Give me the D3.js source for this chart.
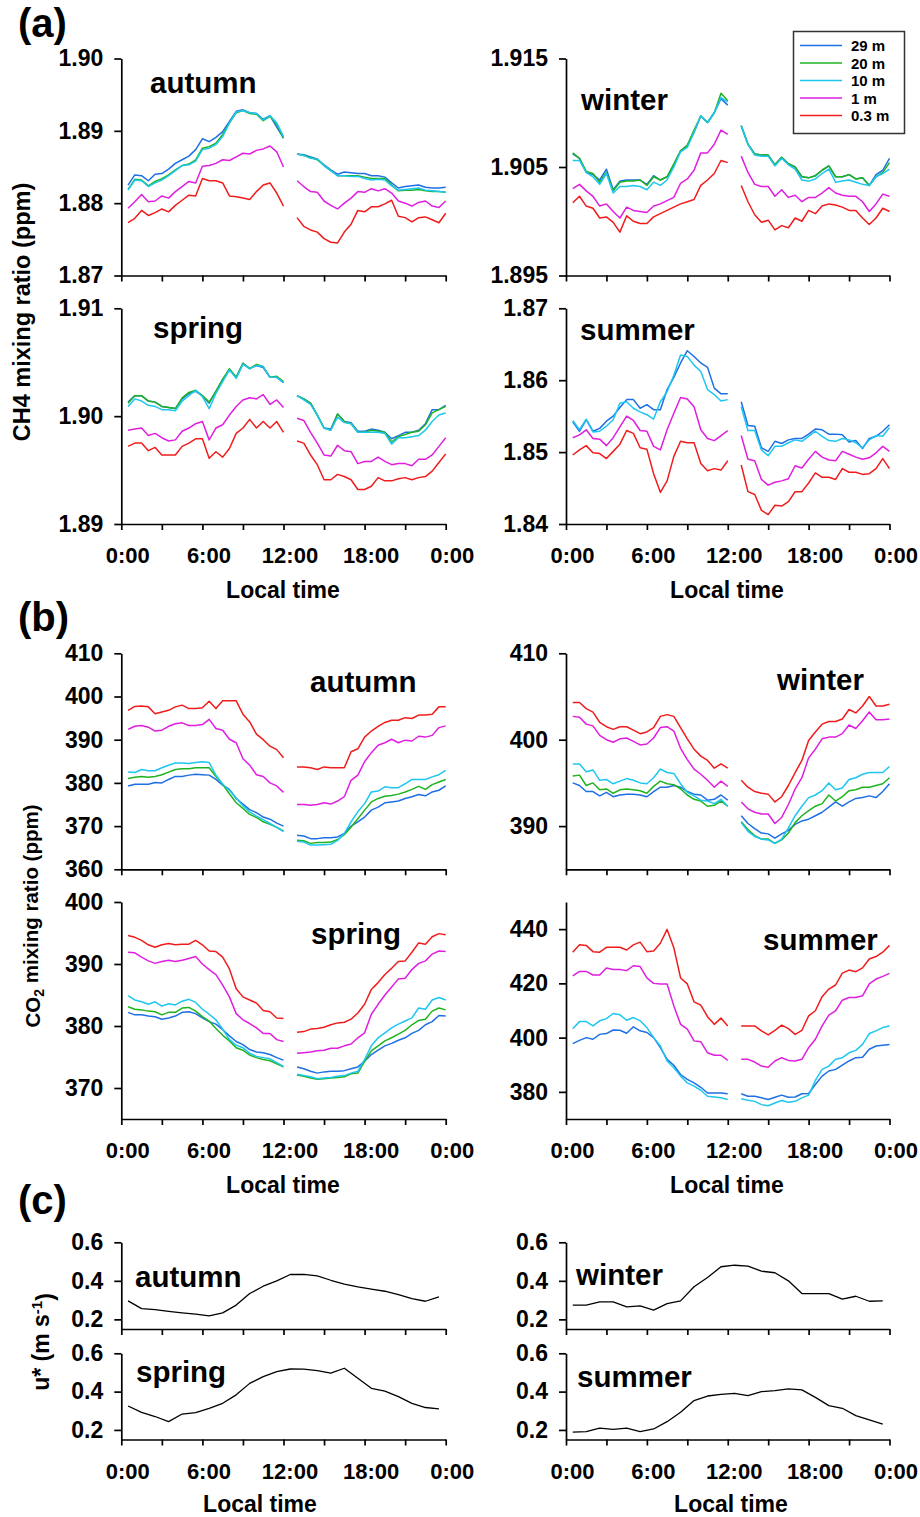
<!DOCTYPE html>
<html><head><meta charset="utf-8">
<script src="https://cdn.jsdelivr.net/npm/d3@7"></script>
<style>
body{margin:0;background:#fff;}
svg text{font-family:"Liberation Sans",Arial,Helvetica,sans-serif;font-weight:bold;fill:#000;}
</style></head><body>
<svg id="chart" width="920" height="1517"></svg>
<script>
// ---------- categories / ticks ----------
const halfHours = [0.5,1,1.5,2,2.5,3,3.5,4,4.5,5,5.5,6,6.5,7,7.5,8,8.5,9,9.5,10,10.5,11,11.5,12,12.5,13,13.5,14,14.5,15,15.5,16,16.5,17,17.5,18,18.5,19,19.5,20,20.5,21,21.5,22,22.5,23,23.5,24];
const hours = [0.5,1.5,2.5,3.5,4.5,5.5,6.5,7.5,8.5,9.5,10.5,11.5,12.5,13.5,14.5,15.5,16.5,17.5,18.5,19.5,20.5,21.5,22.5,23.5];
const heights = ["29 m","20 m","10 m","1 m","0.3 m"];
const seasons = ["autumn","winter","spring","summer"];
const xTickValues = [0,3,6,9,12,15,18,21,24];
const xTickLabels = ["0:00","","6:00","","12:00","","18:00","","0:00"];
const ch4TicksAutumn = [1.87,1.88,1.89,1.90];
const ch4TicksWinter = [1.895,1.905,1.915];
const ch4TicksSpring = [1.89,1.90,1.91];
const ch4TicksSummer = [1.84,1.85,1.86,1.87];
const co2TicksAutumn = [360,370,380,390,400,410];
const co2TicksWinter = [390,400,410];
const co2TicksSpring = [370,380,390,400];
const co2TicksSummer = [380,400,420,440];
const uTicks = [0.2,0.4,0.6];

// ---------- CH4 (ppm) ----------
const ch4Autumn29 = [1.8825,1.8839,1.8838,1.8831,1.8840,1.8841,1.8847,1.8855,1.8860,1.8865,1.8874,1.8889,1.8885,1.8891,1.8899,1.8913,1.8927,1.8929,1.8925,1.8924,1.8916,1.8921,1.8905,1.8890,null,1.8868,1.8867,1.8864,1.8861,1.8853,1.8846,1.8840,1.8843,1.8842,1.8841,1.8841,1.8838,1.8838,1.8836,1.8828,1.8821,1.8823,1.8824,1.8825,1.8822,1.8821,1.8821,1.8822];
const ch4Autumn20 = [1.8819,1.8833,1.8832,1.8824,1.8830,1.8834,1.8839,1.8846,1.8852,1.8854,1.8860,1.8876,1.8878,1.8883,1.8895,1.8911,1.8925,1.8928,1.8924,1.8923,1.8914,1.8920,1.8909,1.8890,null,1.8868,1.8866,1.8863,1.8860,1.8852,1.8845,1.8838,1.8838,1.8838,1.8838,1.8836,1.8834,1.8834,1.8834,1.8825,1.8817,1.8818,1.8818,1.8819,1.8817,1.8816,1.8816,1.8815];
const ch4Autumn10 = [1.8818,1.8832,1.8831,1.8823,1.8828,1.8832,1.8838,1.8845,1.8852,1.8853,1.8858,1.8874,1.8876,1.8881,1.8892,1.8911,1.8926,1.8928,1.8925,1.8924,1.8915,1.8921,1.8911,1.8892,null,1.8868,1.8866,1.8862,1.8861,1.8852,1.8845,1.8838,1.8838,1.8837,1.8837,1.8834,1.8832,1.8833,1.8832,1.8824,1.8818,1.8819,1.8820,1.8821,1.8818,1.8817,1.8816,1.8815];
const ch4Autumn1 = [1.8793,1.8802,1.8812,1.8802,1.8803,1.8810,1.8807,1.8816,1.8823,1.8830,1.8828,1.8851,1.8852,1.8855,1.8860,1.8859,1.8864,1.8869,1.8868,1.8873,1.8875,1.8879,1.8871,1.8850,null,1.8831,1.8823,1.8816,1.8815,1.8803,1.8797,1.8792,1.8800,1.8807,1.8816,1.8815,1.8820,1.8817,1.8820,1.8814,1.8803,1.8800,1.8796,1.8801,1.8803,1.8796,1.8794,1.8803];
const ch4Autumn03 = [1.8773,1.8779,1.8790,1.8783,1.8787,1.8792,1.8788,1.8797,1.8804,1.8811,1.8810,1.8834,1.8831,1.8831,1.8828,1.8810,1.8809,1.8807,1.8805,1.8816,1.8825,1.8828,1.8814,1.8796,null,1.8780,1.8768,1.8763,1.8760,1.8751,1.8746,1.8745,1.8760,1.8771,1.8790,1.8788,1.8795,1.8795,1.8799,1.8804,1.8782,1.8780,1.8774,1.8780,1.8781,1.8777,1.8773,1.8786];

const ch4Winter29 = [1.9062,1.9058,1.9045,1.9043,1.9038,1.9048,1.9029,1.9037,1.9038,1.9038,1.9038,1.9034,1.9042,1.9038,1.9041,1.9052,1.9065,1.9070,1.9082,1.9097,1.9091,1.9100,1.9113,1.9107,null,1.9088,1.9071,1.9062,1.9061,1.9061,1.9052,1.9059,1.9053,1.9050,1.9041,1.9040,1.9042,1.9047,1.9051,1.9041,1.9041,1.9043,1.9039,1.9040,1.9033,1.9043,1.9047,1.9058];
const ch4Winter20 = [1.9063,1.9058,1.9046,1.9044,1.9036,1.9045,1.9028,1.9036,1.9037,1.9037,1.9038,1.9033,1.9041,1.9038,1.9041,1.9053,1.9065,1.9070,1.9084,1.9097,1.9091,1.9100,1.9118,1.9111,null,1.9088,1.9071,1.9062,1.9061,1.9061,1.9052,1.9059,1.9053,1.9050,1.9041,1.9040,1.9042,1.9047,1.9051,1.9041,1.9041,1.9043,1.9039,1.9040,1.9033,1.9041,1.9045,1.9054];
const ch4Winter10 = [1.9056,1.9056,1.9045,1.9041,1.9034,1.9044,1.9026,1.9032,1.9032,1.9033,1.9032,1.9029,1.9036,1.9033,1.9038,1.9050,1.9064,1.9068,1.9082,1.9097,1.9091,1.9100,1.9114,1.9110,null,1.9088,1.9071,1.9061,1.9060,1.9060,1.9051,1.9058,1.9052,1.9048,1.9038,1.9037,1.9039,1.9044,1.9048,1.9036,1.9037,1.9038,1.9036,1.9034,1.9033,1.9041,1.9044,1.9048];
const ch4Winter1 = [1.9030,1.9034,1.9028,1.9023,1.9014,1.9016,1.9009,1.9003,1.9013,1.9010,1.9009,1.9008,1.9014,1.9016,1.9019,1.9022,1.9035,1.9039,1.9047,1.9063,1.9063,1.9071,1.9084,1.9080,null,1.9060,1.9045,1.9034,1.9032,1.9032,1.9023,1.9029,1.9022,1.9024,1.9018,1.9022,1.9022,1.9026,1.9031,1.9026,1.9024,1.9023,1.9023,1.9018,1.9009,1.9016,1.9025,1.9023];
const ch4Winter03 = [1.9017,1.9023,1.9014,1.9012,1.9003,1.9004,1.8999,1.8990,1.9005,1.9000,1.8998,1.8998,1.9004,1.9007,1.9010,1.9013,1.9016,1.9018,1.9020,1.9033,1.9038,1.9044,1.9056,1.9054,null,1.9033,1.9018,1.9006,1.8999,1.9001,1.8992,1.8996,1.8994,1.9003,1.9000,1.9010,1.9007,1.9014,1.9016,1.9015,1.9013,1.9010,1.9010,1.9003,1.8997,1.9003,1.9012,1.9009];

const ch4Spring29 = [1.9013,1.9019,1.9019,1.9014,1.9013,1.9009,1.9008,1.9007,1.9016,1.9021,1.9023,1.9019,1.9012,1.9023,1.9034,1.9043,1.9036,1.9049,1.9044,1.9047,1.9045,1.9036,1.9036,1.9031,null,1.9019,1.9016,1.9012,1.9001,1.8989,1.8988,1.9002,1.8995,1.8994,1.8986,1.8986,1.8988,1.8987,1.8985,1.8979,1.8982,1.8985,1.8985,1.8987,1.8993,1.9006,1.9006,1.9010];
const ch4Spring20 = [1.9012,1.9019,1.9019,1.9014,1.9013,1.9009,1.9008,1.9007,1.9017,1.9022,1.9024,1.9019,1.9013,1.9023,1.9034,1.9044,1.9036,1.9049,1.9044,1.9048,1.9046,1.9036,1.9037,1.9032,null,1.9019,1.9016,1.9012,1.9001,1.8989,1.8987,1.9002,1.8995,1.8993,1.8985,1.8985,1.8987,1.8986,1.8985,1.8976,1.8981,1.8983,1.8985,1.8986,1.8992,1.9003,1.9006,1.9009];
const ch4Spring10 = [1.9009,1.9016,1.9014,1.9010,1.9009,1.9006,1.9006,1.9005,1.9014,1.9019,1.9024,1.9018,1.9007,1.9021,1.9032,1.9043,1.9035,1.9048,1.9044,1.9047,1.9046,1.9036,1.9036,1.9031,null,1.9019,1.9015,1.9011,1.9001,1.8989,1.8987,1.8999,1.8994,1.8993,1.8985,1.8985,1.8985,1.8985,1.8984,1.8974,1.8980,1.8980,1.8981,1.8982,1.8987,1.8995,1.9001,1.9003];
const ch4Spring1 = [1.8987,1.8988,1.8989,1.8982,1.8984,1.8980,1.8977,1.8978,1.8986,1.8989,1.8993,1.8995,1.8978,1.8989,1.8992,1.9001,1.9009,1.9015,1.9017,1.9016,1.9020,1.9011,1.9015,1.9008,null,1.8998,1.8996,1.8985,1.8975,1.8964,1.8963,1.8973,1.8968,1.8967,1.8956,1.8958,1.8958,1.8962,1.8958,1.8955,1.8956,1.8956,1.8954,1.8960,1.8960,1.8964,1.8972,1.8980];
const ch4Spring03 = [1.8972,1.8975,1.8975,1.8968,1.8971,1.8964,1.8964,1.8964,1.8972,1.8975,1.8979,1.8979,1.8961,1.8967,1.8962,1.8970,1.8984,1.8989,1.8997,1.8989,1.8995,1.8989,1.8995,1.8985,null,1.8977,1.8975,1.8964,1.8955,1.8941,1.8941,1.8946,1.8944,1.8941,1.8932,1.8932,1.8935,1.8943,1.8940,1.8940,1.8942,1.8943,1.8941,1.8943,1.8944,1.8949,1.8957,1.8965];

const ch4Summer29 = [1.8542,1.8529,1.8545,1.8529,1.8533,1.8543,1.8550,1.8562,1.8573,1.8573,1.8561,1.8566,1.8559,1.8559,1.8587,1.8604,1.8624,1.8641,1.8633,1.8624,1.8618,1.8589,1.8581,1.8581,null,1.8570,1.8537,1.8536,1.8506,1.8501,1.8515,1.8512,1.8517,1.8519,1.8519,1.8525,1.8532,1.8531,1.8525,1.8525,1.8524,1.8514,1.8516,1.8505,1.8519,1.8522,1.8529,1.8538];
const ch4Summer10 = [1.8544,1.8531,1.8546,1.8528,1.8529,1.8536,1.8545,1.8568,1.8570,1.8561,1.8556,1.8552,1.8546,1.8570,1.8584,1.8607,1.8635,1.8633,1.8621,1.8612,1.8587,1.8580,1.8571,1.8573,null,1.8563,1.8530,1.8530,1.8503,1.8495,1.8508,1.8508,1.8513,1.8517,1.8515,1.8522,1.8529,1.8522,1.8516,1.8515,1.8519,1.8517,1.8513,1.8506,1.8517,1.8523,1.8522,1.8534];
const ch4Summer1 = [1.8520,1.8524,1.8531,1.8519,1.8518,1.8509,1.8520,1.8535,1.8550,1.8544,1.8530,1.8529,1.8508,1.8503,1.8531,1.8554,1.8576,1.8574,1.8563,1.8531,1.8519,1.8516,1.8523,1.8530,null,1.8523,1.8490,1.8488,1.8462,1.8454,1.8458,1.8460,1.8463,1.8481,1.8478,1.8490,1.8501,1.8493,1.8489,1.8488,1.8501,1.8497,1.8493,1.8490,1.8492,1.8499,1.8508,1.8501];
const ch4Summer03 = [1.8496,1.8503,1.8509,1.8499,1.8498,1.8491,1.8501,1.8511,1.8530,1.8526,1.8506,1.8504,1.8470,1.8444,1.8460,1.8494,1.8515,1.8513,1.8513,1.8484,1.8474,1.8477,1.8475,1.8488,null,1.8482,1.8445,1.8441,1.8419,1.8413,1.8426,1.8425,1.8431,1.8445,1.8445,1.8457,1.8471,1.8465,1.8465,1.8462,1.8477,1.8472,1.8472,1.8469,1.8470,1.8477,1.8491,1.8477];

// ---------- CO2 (ppm) ----------
const co2Autumn29 = [379.3,379.7,379.7,379.7,380.1,380.0,380.8,381.5,381.5,381.8,382.0,381.9,381.8,380.8,379.5,378.5,376.4,375.1,373.8,373.1,372.1,371.6,370.7,370.0,null,367.9,367.7,367.1,367.1,367.3,367.3,367.5,368.3,370.0,371.0,372.1,373.7,374.4,375.4,375.6,375.8,376.4,376.8,377.3,377.0,377.9,378.3,379.3];
const co2Autumn20 = [381.0,381.3,381.5,381.3,381.5,381.9,382.5,383.1,383.3,383.3,383.5,383.5,383.5,381.5,379.7,377.5,375.4,374.1,372.7,372.0,371.0,370.4,369.7,368.9,null,366.7,366.6,366.0,366.2,366.2,366.3,366.9,368.0,369.8,371.7,373.7,375.6,376.4,376.9,377.1,377.4,377.9,378.5,379.2,378.5,379.6,380.2,380.8];
const co2Autumn10 = [382.5,382.4,383.1,382.8,382.8,383.5,384.1,384.6,384.6,384.5,384.7,384.9,384.7,381.8,379.7,378.3,376.5,374.7,373.3,372.3,371.5,370.6,369.7,368.7,null,366.5,366.3,365.6,365.6,365.7,365.8,366.7,368.3,371.0,373.3,375.2,377.9,378.1,379.1,378.9,378.9,379.8,380.8,380.8,380.8,381.4,381.9,382.9];
const co2Autumn1 = [392.4,393.1,393.3,392.9,392.0,392.2,393.1,393.7,393.9,393.3,393.3,393.5,394.7,392.6,392.2,390.1,389.3,385.6,384.1,381.9,381.5,380.0,379.3,377.8,null,375.0,375.0,374.8,375.0,375.4,375.1,375.8,376.8,380.6,381.8,384.9,387.0,388.7,389.3,390.1,389.3,389.9,389.7,390.8,390.6,391.0,392.8,393.2];
const co2Autumn03 = [396.8,397.7,397.8,397.6,396.0,396.4,396.8,397.6,398.0,397.2,397.2,397.4,398.9,397.2,399.0,399.0,399.0,395.9,394.1,391.3,390.0,388.5,387.7,385.8,null,383.7,383.7,383.5,383.1,383.7,383.5,383.5,383.5,387.2,387.9,390.6,392.0,393.1,394.0,394.5,394.5,395.1,394.9,395.7,395.7,395.9,397.6,397.6];

const co2Winter29 = [395.0,394.7,394.0,394.0,393.5,393.9,393.4,393.6,393.7,393.7,393.6,393.4,394.0,394.5,394.5,394.7,394.5,394.0,393.7,393.6,393.0,393.1,393.6,393.0,null,391.2,390.3,389.7,389.2,389.1,388.6,389.1,389.5,390.2,390.6,390.8,391.2,391.6,392.2,392.8,392.3,392.8,393.2,393.3,393.5,393.3,394.0,394.9];
const co2Winter20 = [395.8,395.9,394.7,395.0,394.2,394.3,393.8,394.2,394.3,394.2,394.1,393.8,394.6,395.2,394.9,394.8,394.3,393.6,393.1,392.9,392.3,392.4,392.9,392.3,null,390.5,389.6,388.9,388.5,388.5,388.0,388.4,389.2,390.4,391.2,391.8,392.3,392.6,393.6,392.9,393.4,394.1,394.2,394.5,394.5,394.7,394.9,395.6];
const co2Winter10 = [397.2,397.2,396.3,396.5,395.3,395.4,394.9,395.2,395.5,395.3,395.0,394.9,395.6,396.6,396.2,396.1,394.9,393.9,393.5,393.0,392.9,392.6,393.1,392.3,null,390.4,389.4,388.8,388.5,388.4,388.0,388.5,389.8,391.2,392.3,393.3,393.6,394.1,395.0,394.2,394.4,395.4,395.6,396.0,396.2,396.2,396.2,396.9];
const co2Winter1 = [402.7,402.6,401.8,401.6,400.5,400.0,399.7,400.1,400.2,399.8,399.4,399.5,400.2,401.4,401.5,401.0,399.0,397.7,396.6,396.0,395.3,394.5,395.2,394.6,null,392.8,392.0,391.6,391.4,391.4,390.3,391.0,392.5,394.3,395.6,397.9,398.9,400.1,400.3,400.3,400.7,401.7,401.3,402.2,403.2,402.3,402.3,402.4];
const co2Winter03 = [404.3,404.3,403.6,403.2,402.0,401.5,401.2,401.5,401.5,401.1,400.7,400.9,401.4,402.7,402.9,402.7,401.4,400.1,398.9,398.1,397.6,396.7,397.2,396.7,null,395.3,394.5,394.0,393.8,393.7,392.8,393.4,394.7,396.2,397.6,399.9,400.9,401.8,402.1,402.1,402.4,403.5,403.1,403.9,405.0,403.9,403.9,404.1];

const co2Spring29 = [382.2,381.8,381.8,381.6,381.5,381.1,381.3,381.6,382.2,382.3,382.0,381.3,380.7,380.3,379.4,378.4,377.5,377.0,376.2,375.8,375.7,375.4,374.9,374.5,null,373.4,373.1,372.7,372.4,372.6,372.7,372.7,372.8,373.1,373.4,374.3,375.4,376.1,376.8,377.2,377.7,378.1,378.8,379.3,380.2,380.7,381.7,381.6];
const co2Spring20 = [383.1,382.7,382.6,382.4,382.3,381.8,382.2,382.2,382.9,383.0,382.4,381.5,380.8,379.6,378.5,377.6,376.5,376.1,375.3,374.9,374.6,374.4,373.9,373.4,null,372.1,371.9,371.6,371.4,371.5,371.6,371.7,371.8,372.3,372.4,374.3,376.0,376.8,377.6,378.1,378.7,379.3,380.2,380.9,381.1,382.4,382.9,382.6];
const co2Spring10 = [384.9,384.2,383.9,383.5,383.9,383.2,383.6,383.4,384.0,384.3,383.8,382.7,381.9,381.0,379.5,377.8,376.9,376.5,375.6,375.1,374.9,374.7,374.1,373.5,null,372.2,372.0,371.8,371.5,371.6,371.7,371.9,372.0,372.4,372.7,374.6,376.8,378.1,378.9,379.7,380.3,380.8,381.3,382.9,382.7,384.2,384.6,384.2];
const co2Spring1 = [391.9,391.8,391.1,390.5,390.1,390.4,390.6,390.4,390.6,390.9,391.2,390.0,389.1,388.3,386.6,384.7,382.0,381.0,380.4,379.7,378.8,378.8,377.8,377.5,null,375.6,375.7,375.8,376.0,376.1,376.4,376.4,376.8,377.1,378.1,378.9,381.9,383.5,385.0,386.3,387.6,387.7,389.1,390.1,390.5,391.6,392.1,392.0];
const co2Spring03 = [394.6,394.3,393.8,393.1,392.7,393.1,393.3,393.1,393.2,393.2,393.8,393.1,392.1,392.0,391.1,389.2,386.0,384.7,384.2,383.7,382.5,382.3,381.3,381.2,null,379.0,379.1,379.5,379.6,379.8,380.2,380.5,380.6,381.1,382.1,383.5,385.9,387.0,388.3,389.3,390.4,390.5,391.9,393.4,393.2,394.4,394.9,394.7];

const co2Summer29 = [397.8,399.0,400.0,399.4,401.2,401.5,402.8,402.7,401.6,404.0,402.5,401.9,400.0,396.3,392.0,389.8,386.4,384.6,383.3,381.7,379.6,379.6,379.6,379.3,null,379.3,378.4,378.4,377.8,377.2,378.0,378.8,378.0,378.1,379.3,379.4,382.7,385.8,387.7,388.3,389.9,391.4,392.6,392.8,395.7,396.9,397.2,397.5];
const co2Summer10 = [403.3,405.9,405.9,404.3,406.2,407.0,408.9,408.4,406.4,407.4,406.2,403.7,400.0,396.9,391.4,388.9,385.8,383.3,382.1,380.6,378.4,378.1,377.8,377.2,null,377.5,376.9,376.5,375.3,374.9,375.9,376.8,376.2,376.5,377.8,378.8,384.2,388.3,389.5,392.0,392.6,394.4,395.3,397.5,401.5,402.5,403.7,404.3];
const co2Summer1 = [422.8,424.4,424.4,423.1,423.1,425.7,425.1,425.1,424.7,426.5,426.2,422.0,420.0,419.8,419.8,411.7,404.9,403.1,398.8,398.5,394.4,393.5,393.5,391.6,null,392.0,392.0,391.0,389.5,389.1,391.4,392.6,391.6,391.4,392.0,396.3,399.4,404.3,408.3,409.9,413.8,414.8,414.8,415.4,419.8,421.6,422.6,423.7];
const co2Summer03 = [431.5,434.2,434.0,431.7,431.5,433.3,433.3,433.3,432.3,434.2,435.2,431.7,431.9,434.8,439.9,433.1,422.0,419.8,413.2,412.0,407.7,404.9,407.2,404.3,null,404.3,404.3,404.3,402.5,401.0,402.7,404.6,403.3,401.2,402.7,408.0,409.9,415.1,417.9,419.4,423.8,424.9,424.3,425.7,429.0,429.9,431.5,434.0];

// ---------- u* (m s-1) ----------
const uAutumn = [0.296,0.256,0.251,0.242,0.234,0.227,0.218,0.234,0.274,0.334,0.372,0.400,0.433,0.433,0.426,0.403,0.383,0.369,0.357,0.346,0.329,0.308,0.294,0.317];
const uWinter = [0.274,0.274,0.291,0.291,0.265,0.270,0.248,0.282,0.296,0.369,0.417,0.473,0.481,0.476,0.450,0.442,0.400,0.334,0.334,0.334,0.305,0.320,0.294,0.296];
const uSpring = [0.325,0.292,0.270,0.243,0.283,0.290,0.313,0.339,0.383,0.443,0.478,0.504,0.518,0.517,0.510,0.496,0.522,0.470,0.417,0.403,0.374,0.339,0.317,0.310];
const uSummer = [0.188,0.191,0.209,0.203,0.209,0.191,0.205,0.243,0.292,0.353,0.377,0.386,0.391,0.379,0.400,0.405,0.414,0.409,0.370,0.327,0.313,0.275,0.252,0.230];

// ---------- styling / layout ----------
const colors = {"29 m":"#1f6fe5","20 m":"#1fb41f","10 m":"#1ec6f0","1 m":"#e01ee0","0.3 m":"#f01c1c"};
const svg = d3.select("#chart");
const FONT_TICK = 23;

const colX = [[121.3,445.7],[566,889.5]];

function panel(o){
  const g = svg.append("g");
  const x = d3.scaleLinear().domain([0,24]).range(o.xr);
  const y = d3.scaleLinear().domain(o.dom).range([o.yr[1], o.yr[0]]);
  // y axis
  const ya = g.append("g").attr("transform",`translate(${o.xr[0]},0)`)
    .call(d3.axisLeft(y).tickValues(o.ticks).tickFormat(d3.format(o.fmt)).tickSize(7).tickSizeOuter(0).tickPadding(11));
  ya.select(".domain").attr("stroke","#000").attr("stroke-width",1.7);
  ya.selectAll(".tick line").attr("stroke","#000").attr("stroke-width",1.7);
  ya.selectAll(".tick text").style("font-size",FONT_TICK+"px").attr("font-family",null);
  // x axis
  const xa = g.append("g").attr("transform",`translate(0,${o.yr[1]})`)
    .call(d3.axisBottom(x).tickValues(xTickValues).tickFormat("").tickSize(6).tickSizeOuter(0));
  xa.select(".domain").attr("stroke","#000").attr("stroke-width",1.7);
  xa.selectAll(".tick line").attr("stroke","#000").attr("stroke-width",1.7);
  if(o.xlabels){
    g.selectAll(".xl").data(xTickValues).enter().append("text")
      .attr("x",d=>x(d)+6.5).attr("y",o.yr[1]+39).attr("text-anchor","middle")
      .style("font-size","22px").text((d,i)=>xTickLabels[i]);
    g.append("text").attr("x",o.ltx).attr("y",o.yr[1]+o.ltdy).attr("text-anchor","middle")
      .style("font-size","23px").text("Local time");
  }
  // lines
  const line = d3.line().defined(d=>d.v!=null).x(d=>x(d.t)).y(d=>y(d.v));
  o.series.forEach(s=>{
    const pts = s.vals.map((v,i)=>({t:s.times[i],v:v}));
    g.append("path").datum(pts).attr("fill","none").attr("stroke",s.color)
      .attr("stroke-width",s.w||1.5).attr("stroke-linejoin","round").attr("d",line);
  });
  // season label
  g.append("text").attr("x",o.lab[0]).attr("y",o.lab[1]).style("font-size","29.5px").text(o.name);
}

function gasSeries(list){
  return list.map(d=>({color:colors[d[0]],vals:d[1],times:halfHours}));
}

// CH4
panel({name:seasons[0],xr:colX[0],yr:[58.5,275.5],dom:[1.87,1.90],ticks:ch4TicksAutumn,fmt:".2f",lab:[150,93],
  series:gasSeries([["29 m",ch4Autumn29],["20 m",ch4Autumn20],["10 m",ch4Autumn10],["1 m",ch4Autumn1],["0.3 m",ch4Autumn03]])});
panel({name:seasons[1],xr:colX[1],yr:[58.5,275.5],dom:[1.895,1.915],ticks:ch4TicksWinter,fmt:".3f",lab:[581,110],
  series:gasSeries([["29 m",ch4Winter29],["20 m",ch4Winter20],["10 m",ch4Winter10],["1 m",ch4Winter1],["0.3 m",ch4Winter03]])});
panel({name:seasons[2],xr:colX[0],yr:[308.3,524],dom:[1.89,1.91],ticks:ch4TicksSpring,fmt:".2f",lab:[153,338],xlabels:true,ltx:283,ltdy:74,
  series:gasSeries([["29 m",ch4Spring29],["20 m",ch4Spring20],["10 m",ch4Spring10],["1 m",ch4Spring1],["0.3 m",ch4Spring03]])});
panel({name:seasons[3],xr:colX[1],yr:[308.3,524],dom:[1.84,1.87],ticks:ch4TicksSummer,fmt:".2f",lab:[580,340],xlabels:true,ltx:727,ltdy:74,
  series:gasSeries([["29 m",ch4Summer29],["10 m",ch4Summer10],["1 m",ch4Summer1],["0.3 m",ch4Summer03]])});

// CO2
panel({name:seasons[0],xr:colX[0],yr:[653.3,869.3],dom:[360,410],ticks:co2TicksAutumn,fmt:"d",lab:[310,692],
  series:gasSeries([["29 m",co2Autumn29],["20 m",co2Autumn20],["10 m",co2Autumn10],["1 m",co2Autumn1],["0.3 m",co2Autumn03]])});
panel({name:seasons[1],xr:colX[1],yr:[653.3,869.3],dom:[385,410],ticks:co2TicksWinter,fmt:"d",lab:[777,690],
  series:gasSeries([["29 m",co2Winter29],["20 m",co2Winter20],["10 m",co2Winter10],["1 m",co2Winter1],["0.3 m",co2Winter03]])});
panel({name:seasons[2],xr:colX[0],yr:[902,1119],dom:[365,400],ticks:co2TicksSpring,fmt:"d",lab:[311,944],xlabels:true,ltx:283,ltdy:74,
  series:gasSeries([["29 m",co2Spring29],["20 m",co2Spring20],["10 m",co2Spring10],["1 m",co2Spring1],["0.3 m",co2Spring03]])});
panel({name:seasons[3],xr:colX[1],yr:[902,1119],dom:[370,450],ticks:co2TicksSummer,fmt:"d",lab:[763,950],xlabels:true,ltx:727,ltdy:74,
  series:gasSeries([["29 m",co2Summer29],["10 m",co2Summer10],["1 m",co2Summer1],["0.3 m",co2Summer03]])});

// u*
panel({name:seasons[0],xr:colX[0],yr:[1242.3,1329],dom:[0.15,0.6],ticks:uTicks,fmt:".1f",lab:[135,1287],
  series:[{color:"#000",vals:uAutumn,times:hours,w:1.3}]});
panel({name:seasons[1],xr:colX[1],yr:[1242.3,1329],dom:[0.15,0.6],ticks:uTicks,fmt:".1f",lab:[576,1285],
  series:[{color:"#000",vals:uWinter,times:hours,w:1.3}]});
panel({name:seasons[2],xr:colX[0],yr:[1353.3,1439.5],dom:[0.15,0.6],ticks:uTicks,fmt:".1f",lab:[136,1382],xlabels:true,ltx:260,ltdy:72,
  series:[{color:"#000",vals:uSpring,times:hours,w:1.3}]});
panel({name:seasons[3],xr:colX[1],yr:[1353.3,1439.5],dom:[0.15,0.6],ticks:uTicks,fmt:".1f",lab:[577,1387],xlabels:true,ltx:731,ltdy:72,
  series:[{color:"#000",vals:uSummer,times:hours,w:1.3}]});

// panel letters
[["(a)",37],["(b)",631],["(c)",1214]].forEach(d=>{
  svg.append("text").attr("x",18).attr("y",d[1]).style("font-size","40px").text(d[0]);
});

// y titles
svg.append("text").attr("transform","translate(30,312) rotate(-90)").attr("text-anchor","middle")
  .style("font-size","23.5px").text("CH4 mixing ratio (ppm)");
const co2t = svg.append("text").attr("transform","translate(40,916) rotate(-90)").attr("text-anchor","middle").style("font-size","20.5px");
co2t.append("tspan").text("CO");
co2t.append("tspan").attr("dy","0.3em").style("font-size","14px").text("2");
co2t.append("tspan").attr("dy","-0.3em").text(" mixing ratio (ppm)");
const ut = svg.append("text").attr("transform","translate(49,1342) rotate(-90)").attr("text-anchor","middle").style("font-size","23px");
ut.append("tspan").text("u* (m s");
ut.append("tspan").attr("dy","-0.45em").style("font-size","15px").text("-1");
ut.append("tspan").attr("dy","0.45em").text(")");

// legend
const lg = svg.append("g");
lg.append("rect").attr("x",793.5).attr("y",31.5).attr("width",111).attr("height",102)
  .attr("fill","#fff").attr("stroke","#333").attr("stroke-width",1.5);
heights.forEach((h,i)=>{
  const yy = 45.5 + i*17.5;
  lg.append("line").attr("x1",800).attr("x2",842).attr("y1",yy).attr("y2",yy).attr("stroke",colors[h]).attr("stroke-width",1.6);
  lg.append("text").attr("x",851).attr("y",yy+5.5).style("font-size","15px").text(h);
});
</script>
</body></html>
